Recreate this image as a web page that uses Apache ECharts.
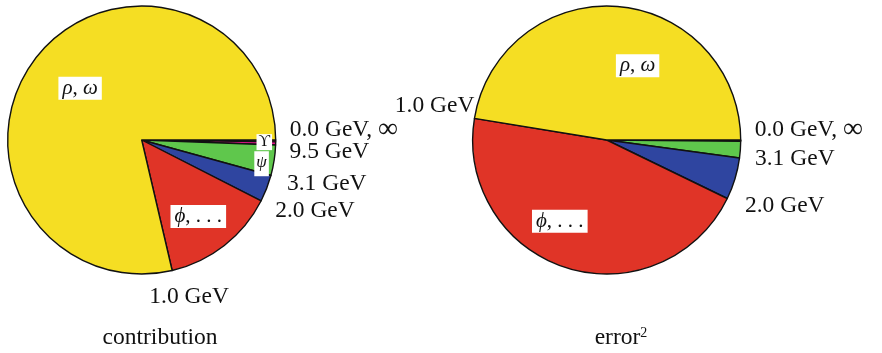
<!DOCTYPE html>
<html>
<head>
<meta charset="utf-8">
<script src="https://cdn.jsdelivr.net/npm/echarts@6/dist/echarts.min.js"></script>
<style>
  html, body { margin: 0; padding: 0; background: #fff; }
  #chart { width: 882px; height: 353px; }
</style>
</head>
<body>
<div id="chart"></div>
<script>
// Energy bins, ordered clockwise from the 0.0 GeV / ∞ spoke
const bins = ['∞–11 GeV', 'ϒ', 'ψ', '2.0–3.1 GeV', 'ϕ, …', 'ρ, ω'];
// Share of each bin (percent)
const contribution = [0.22, 0.38, 3.67, 3.22, 13.86, 78.65];
const errorSquared = [0.05, 0.10, 2.00, 5.04, 45.39, 47.42];
// Fill colours for the bins
const binColors = ['#e8731e', '#e3168a', '#5fc74c', '#2f45a0', '#e03427', '#f5de23'];

// Spoke labels: text and the bin index whose start edge they mark
const contribSpokes = [
  { text: '0.0 GeV, {inf|∞}', edge: 0, dx: 14, dy: -10, align: 'left' },
  { text: '9.5 GeV', edge: 2, dx: 14, dy: 7, align: 'left' },
  { text: '3.1 GeV', edge: 3, dx: 16, dy: 8.5, align: 'left' },
  { text: '2.0 GeV', edge: 4, dx: 14, dy: 10, align: 'left' },
  { text: '1.0 GeV', edge: 5, dx: 17, dy: 26.5, align: 'center' }
];
const errorSpokes = [
  { text: '0.0 GeV, {inf|∞}', edge: 0, dx: 14, dy: -10, align: 'left' },
  { text: '3.1 GeV', edge: 3, dx: 15.5, dy: 1, align: 'left' },
  { text: '2.0 GeV', edge: 4, dx: 17.7, dy: 7.5, align: 'left' },
  { text: '1.0 GeV', edge: 5, dx: 0, dy: -13, align: 'right' }
];
// Slice tags in white boxes: polar angle (deg, clockwise from east) and radius fraction
const contribTags = [
  { text: '{i|ρ}, {i|ω}', ang: 220, rf: 0.6, size: 21, pad: [1, 4, 1, 4] },
  { text: '{i|ϕ}, . . .', ang: 53.5, rf: 0.71, size: 21, pad: [1, 4, 1, 4] },
  { text: 'ϒ', ang: 1.0, rf: 0.915, size: 16, pad: [0, 2, 0, 2] },
  { text: '{i|ψ}', ang: 11.2, rf: 0.912, size: 17, pad: [3, 2, 5, 2] }
];
const errorTags = [
  { text: '{i|ρ}, {i|ω}', ang: 292.6, rf: 0.6, size: 21, pad: [1, 4, 1, 4] },
  { text: '{i|ϕ}, . . .', ang: 120, rf: 0.7, size: 21, pad: [1, 4, 1, 4] }
];
const captions = ['contribution', 'error{sup|2}'];

const R = 134;
const centers = [[141.7, 140], [606.7, 140]];
const FONT = '"Liberation Serif", "DejaVu Serif", serif';
const FS = 23.5;

function edgeAngle(values, edge) {
  const total = values.reduce((a, b) => a + b, 0);
  let s = 0;
  for (let i = 0; i < edge; i++) s += values[i];
  return s / total * 360;
}
function polar(c, r, deg) {
  const a = deg * Math.PI / 180;
  return [c[0] + r * Math.cos(a), c[1] + r * Math.sin(a)];
}

function pieSeries(values, c) {
  return {
    type: 'pie',
    center: c,
    radius: [0, R],
    startAngle: 0,
    clockwise: true,
    silent: true,
    avoidLabelOverlap: false,
    minAngle: 0,
    label: { show: false },
    labelLine: { show: false },
    emphasis: { disabled: true },
    itemStyle: { borderColor: '#111', borderWidth: 1.4, borderJoin: 'round' },
    data: values.map((v, i) => ({ name: bins[i], value: v, itemStyle: { color: binColors[i] } }))
  };
}

const graphics = [];
const richBase = {
  inf: { fontSize: 28, fontFamily: FONT, fill: '#111', lineHeight: 26 },
  sup: { fontSize: 14, fontFamily: FONT, fill: '#111', verticalAlign: 'top', lineHeight: 24 }
};
function addSpokes(spokes, values, c) {
  spokes.forEach(s => {
    const p = polar(c, R, edgeAngle(values, s.edge));
    graphics.push({
      type: 'text', x: p[0] + s.dx, y: p[1] + s.dy, silent: true,
      style: {
        text: s.text, font: FS + 'px ' + FONT, fill: '#111',
        textAlign: s.align, textVerticalAlign: 'middle', rich: richBase
      }
    });
  });
}
function addTags(tags, c) {
  tags.forEach(t => {
    const p = polar(c, R * t.rf, t.ang);
    graphics.push({
      type: 'text', x: p[0], y: p[1], silent: true, z: 10,
      style: {
        text: t.text, font: t.size + 'px ' + FONT, fill: '#111',
        textAlign: 'center', textVerticalAlign: 'middle',
        backgroundColor: '#fff', padding: t.pad,
        rich: { i: { fontStyle: 'italic', fontSize: t.size, fontFamily: FONT, fill: '#111' } }
      }
    });
  });
}
addSpokes(contribSpokes, contribution, centers[0]);
addSpokes(errorSpokes, errorSquared, centers[1]);
addTags(contribTags, centers[0]);
addTags(errorTags, centers[1]);
[[160, 338], [621, 338]].forEach((p, i) => {
  graphics.push({
    type: 'text', x: p[0], y: p[1], silent: true,
    style: {
      text: captions[i], font: FS + 'px ' + FONT, fill: '#111',
      textAlign: 'center', textVerticalAlign: 'middle', rich: richBase
    }
  });
});

const chart = echarts.init(document.getElementById('chart'), null, { renderer: 'canvas' });
chart.setOption({
  animation: false,
  backgroundColor: '#fff',
  series: [pieSeries(contribution, centers[0]), pieSeries(errorSquared, centers[1])],
  graphic: { elements: graphics }
});
</script>
</body>
</html>
